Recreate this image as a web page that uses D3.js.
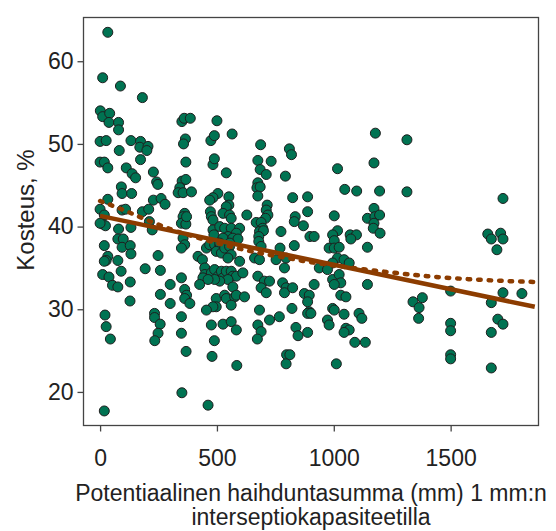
<!DOCTYPE html>
<html>
<head>
<meta charset="utf-8">
<script src="https://cdn.jsdelivr.net/npm/d3@7"></script>
<style>
    body { margin: 0; background: #fff; }
    text { font-family: "Liberation Sans", Arial, sans-serif; fill: #222; }
</style>
</head>
<body>
<div id="draw_here"></div>
<script type="text/javascript">
    // Data: [evaporation sum (mm), moisture (%)]
    points = [
        [33,63.5],[11,58.0],[87,57.0],[181,55.6],[1,54.0],[11,53.3],[41,53.7],[38,52.6],[79,52.6],[79,51.7],
        [0,50.3],[26,50.4],[82,49.2],[132,50.4],[173,50.3],[170,49.6],[205,49.7],[200,49.2],[173,48.1],[0,47.8],
        [18,47.8],[33,47.1],[112,47.1],[137,46.4],[152,45.9],[228,46.6],[242,45.4],[247,45.1],[91,44.8],[94,44.0],
        [135,44.0],[33,43.3],[228,43.2],[261,43.4],[278,42.7],[0,42.1],[94,42.0],[109,42.1],[181,41.8],[208,42.1],
        [18,41.4],[11,40.3],[23,40.1],[0,40.4],[211,40.6],[223,39.6],[132,39.9],[79,39.7],[76,38.5],[99,38.5],
        [94,37.5],[129,37.7],[18,37.7],[132,36.7],[33,36.4],[26,35.9],[18,35.8],[76,35.9],[90,34.6],[193,34.9],
        [11,34.2],[38,33.9],[53,32.9],[76,32.7],[129,33.3],[128,31.0],[248,36.5],[258,34.7],[258,31.8],[21,29.3],
        [26,27.9],[44,26.4],[233,29.5],[233,29.0],[257,28.2],[248,27.1],[234,26.2],[18,17.7],[300,33.0],[300,30.7],
        [367,47.8],[483,47.5],[489,48.2],[540,46.5],[675,48.0],[732,47.9],[685,46.9],[711,46.3],[793,46.1],[351,45.5],
        [367,45.7],[341,44.7],[334,44.1],[355,44.1],[391,44.2],[675,45.3],[671,44.7],[685,44.8],[675,43.7],[504,44.0],
        [483,43.5],[469,43.2],[551,43.6],[551,42.6],[540,42.4],[472,41.8],[476,41.2],[483,40.8],[526,41.6],[554,41.4],
        [561,41.0],[628,41.4],[715,42.6],[711,42.0],[718,41.4],[708,41.0],[362,41.6],[355,41.2],[348,40.4],[668,40.5],
        [689,40.5],[696,39.8],[682,39.4],[699,39.5],[679,38.8],[774,39.4],[483,39.6],[487,39.0],[512,40.0],[533,39.8],
        [561,39.8],[597,39.8],[583,39.2],[547,38.8],[526,38.6],[568,38.6],[590,38.5],[355,38.6],[362,37.8],[348,37.4],
        [455,37.4],[469,37.8],[490,37.8],[512,37.6],[679,38.2],[689,37.6],[770,37.4],[367,40.3],[370,41.2],[512,38.0],
        [555,38.0],
        [419,36.4],[438,36.0],[497,37.0],[519,36.8],[533,37.4],[554,37.6],[561,36.6],[547,36.2],[597,35.8],[661,36.2],
        [682,36.0],[753,36.0],[789,35.0],[796,36.2],[448,35.0],[448,34.2],[440,33.8],[476,34.4],[490,34.8],[505,34.0],
        [519,34.6],[526,33.8],[540,34.6],[561,34.6],[568,34.0],[583,34.0],[547,33.6],[512,33.4],[490,33.6],[462,33.6],
        [611,34.4],[568,32.7],[426,33.0],[348,33.8],[362,32.4],[370,31.7],[362,31.3],[384,30.7],[497,31.3],[497,30.3],
        [483,30.3],[533,31.7],[540,31.3],[576,31.5],[583,31.7],[618,31.5],[561,30.5],[455,29.9],[348,29.1],[675,34.0],
        [703,33.4],[689,32.6],[711,32.0],[725,33.4],[781,33.2],[796,32.6],[789,32.0],[682,29.9],[725,28.7],[767,29.1],
        [476,28.1],[526,28.2],[561,28.5],[583,27.5],[675,28.1],[689,27.3],[348,27.1],
        [1016,47.0],[1172,47.7],[1047,44.5],[1098,44.3],[1196,44.3],[824,43.5],[888,43.6],[888,41.8],[1002,41.3],[835,41.2],
        [831,40.6],[870,40.1],[1172,42.2],[1144,41.0],[1176,41.2],[1196,41.4],[1172,40.4],[1169,39.8],[1198,39.2],[898,38.8],
        [916,38.8],[1016,39.5],[995,39.0],[1002,38.3],[1070,39.0],[1097,39.0],[1073,38.5],[831,37.7],[980,37.4],[1002,37.4],
        [1023,37.5],[1144,37.5],
        [1016,36.2],[1044,36.0],[1066,35.6],[995,35.6],[938,35.0],[973,34.8],[995,33.6],[1023,34.2],[1030,33.2],[1002,33.0],
        [916,33.0],[1144,33.0],[824,32.6],[874,31.9],[895,31.7],[888,30.9],[895,29.7],[1030,31.7],[1052,31.5],[995,30.1],
        [1002,29.9],[821,30.1],[888,29.5],[902,29.5],[973,28.7],[980,28.1],[1044,29.4],[1108,29.5],[1120,28.9],[838,27.8],
        [888,27.2],[1052,27.7],[1066,27.5],[1044,27.2],
        [350,52.7],[360,53.1],[386,53.1],[500,52.8],[365,50.6],[357,50.0],[474,50.4],[489,51.0],[565,51.2],[687,49.9],
        [810,49.4],[819,48.7],[1178,51.3],[350,19.9],[462,18.4],[368,24.9],[489,26.2],[479,24.3],[585,23.2],[673,26.4],
        [798,24.5],[812,24.5],[796,23.4],[847,26.8],[1090,26.0],[1135,26.0],[1011,23.4],
        [1313,50.5],[1313,44.2],[1724,43.4],[1659,39.1],[1714,39.2],[1674,38.5],[1724,38.5],[1698,37.2],[1379,31.4],[1339,30.9],
        [1365,30.2],[1363,28.9],[1500,32.2],[1500,28.3],[1500,27.4],[1500,24.5],[1500,24.0],[1724,32.0],[1805,31.9],[1674,30.8],
        [1702,28.8],[1724,28.2],[1674,27.2],[1674,22.9]
    ]

    // linear fit (solid) and smooth fit (dotted)
    fitLinX = [0, 1860]
    fitLinY = [41.3, 30.3]
    fitCurveX = [0, 100, 200, 300, 400, 500, 600, 700, 800, 900, 1000, 1200, 1400, 1600, 1860]
    fitCurveY = [43.1, 42.0, 40.8, 39.7, 38.8, 38.0, 37.3, 36.7, 36.2, 35.7, 35.3, 34.6, 34.0, 33.6, 33.3]

    xTicks = [0, 500, 1000, 1500]
    yTicks = [20, 30, 40, 50, 60]
    xTitle = ["Potentiaalinen haihduntasumma (mm) 1 mm:n", "interseptiokapasiteetilla"]
    yTitle = "Kosteus, %"

    canvas = ({width: 556, height: 531})
    margin = ({top: 17.5, right: 17.5, bottom: 105.5, left: 83.5})

    l_green = "#007352"
    l_brown = "#8c3c00"

    x = d3.scaleLinear()
        .domain([-71, 1876])
        .range([margin.left, canvas.width - margin.right])

    y = d3.scaleLinear()
        .domain([15.94, 65.29])
        .range([canvas.height - margin.bottom, margin.top])

    var svg = d3.select("div#draw_here").append("svg")
        .attr("width", canvas.width)
        .attr("height", canvas.height)

    // frame
    svg.append("rect")
        .attr("x", margin.left)
        .attr("y", margin.top)
        .attr("width", canvas.width - margin.right - margin.left)
        .attr("height", canvas.height - margin.bottom - margin.top)
        .attr("fill", "none")
        .attr("stroke", "#444")
        .attr("stroke-width", 1.3)

    xAxis = g => g
        .attr("transform", `translate(0,${canvas.height - margin.bottom})`)
        .call(d3.axisBottom(x).tickValues(xTicks).tickSize(6).tickPadding(18).tickFormat(d3.format("d")))
        .call(g => g.select(".domain").remove())

    yAxis = g => g
        .attr("transform", `translate(${margin.left},0)`)
        .call(d3.axisLeft(y).tickValues(yTicks).tickSize(6).tickPadding(4))
        .call(g => g.select(".domain").remove())

    svg.append("g").call(xAxis)
    svg.append("g").call(yAxis)

    svg.selectAll(".tick line").attr("stroke", "#444").attr("stroke-width", 1.3)
    svg.selectAll(".tick text")
        .attr("font-size", 23)
        .attr("font-family", "Liberation Sans, Arial, sans-serif")
        .attr("fill", "#222")

    // points
    svg.append("g")
        .selectAll("circle")
        .data(points)
        .join("circle")
        .attr("cx", d => x(d[0]))
        .attr("cy", d => y(d[1]))
        .attr("r", 5)
        .attr("fill", l_green)
        .attr("stroke", "#1e1e1e")
        .attr("stroke-width", 1)

    // fit lines
    line = d3.line()
        .x(d => x(d[0]))
        .y(d => y(d[1]))

    svg.append("path")
        .attr("fill", "none")
        .attr("stroke", l_brown)
        .attr("stroke-width", 4.5)
        .attr("d", line(d3.zip(fitLinX, fitLinY)))

    svg.append("path")
        .attr("fill", "none")
        .attr("stroke", l_brown)
        .attr("stroke-width", 4.5)
        .attr("stroke-linecap", "round")
        .attr("stroke-dasharray", "2.5,8")
        .attr("d", line.curve(d3.curveMonotoneX)(d3.zip(fitCurveX, fitCurveY)))

    // titles
    svg.append("text")
        .attr("transform", `translate(34,210) rotate(-90)`)
        .attr("text-anchor", "middle")
        .attr("font-size", 24)
        .text(yTitle)

    svg.selectAll(".xtitle")
        .data(xTitle)
        .join("text")
        .attr("class", "xtitle")
        .attr("x", (margin.left + canvas.width - margin.right) / 2)
        .attr("y", (d, i) => 501 + i * 24)
        .attr("text-anchor", "middle")
        .attr("font-size", 23)
        .text(d => d)
</script>
</body>
</html>
